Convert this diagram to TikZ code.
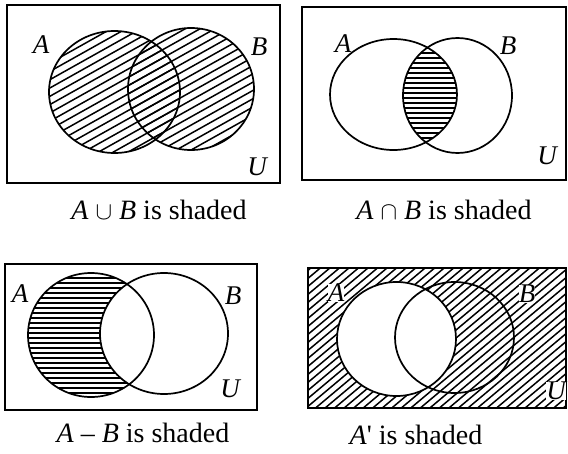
\documentclass[tikz,border=0pt]{standalone}
\usepackage{fontspec}
\setmainfont{Liberation Serif}
\newcommand\diaghatch[4]{% anchor x, anchor y, tan(angle), vertical spacing
  \foreach \k in {-40,...,40}
    \draw[hatchline] (#1-250, #2+\k*#4+250*#3) -- (#1+250, #2+\k*#4-250*#3);}
\newcommand\horhatch[3]{% x-left, y-top, spacing
  \foreach \k in {0,...,40}
    \draw[hatchline] (#1, #2+\k*#3) -- (#1+250, #2+\k*#3);}
\begin{document}
\begin{tikzpicture}[x=1pt,y=-1pt,
  outline/.style={line width=1.7pt},
  hatchline/.style={line width=1.5pt},
  lab/.style={font=\fontsize{27}{29}\selectfont\itshape, inner sep=1pt},
  captext/.style={font=\fontsize{28}{30}\selectfont, inner sep=0pt}]
\useasboundingbox (0,0) rectangle (568,453);

% ---------- Panel 1: A union B ----------
\begin{scope}
  \clip (114.5,92) ellipse [x radius=65.5, y radius=61];
  \diaghatch{150}{90}{0.56}{8.3}
\end{scope}
\begin{scope}
  \clip (191,89) ellipse [x radius=63, y radius=61];
  \diaghatch{150}{90}{0.56}{8.3}
\end{scope}
\draw[outline] (7,5) rectangle (280,183);
\draw[outline] (114.5,92) ellipse [x radius=65.5, y radius=61];
\draw[outline] (191,89) ellipse [x radius=63, y radius=61];
\node[lab] (a1) at (41,45) {A};
\node[lab] (b1) at (259,47) {B};
\node[lab] (u1) at (257,167) {U};
\node[captext] (c1) at (159,210) {\textit{A} $\cup$ \textit{B} is shaded};

% ---------- Panel 2: A intersect B ----------
\begin{scope}
  \clip (393.5,94.5) ellipse [x radius=63.5, y radius=55.5];
  \clip (457.5,95.5) ellipse [x radius=54.5, y radius=57.5];
  \horhatch{380}{38}{5}
\end{scope}
\draw[outline] (302,7) rectangle (566,180);
\draw[outline] (393.5,94.5) ellipse [x radius=63.5, y radius=55.5];
\draw[outline] (457.5,95.5) ellipse [x radius=54.5, y radius=57.5];
\node[lab] (a2) at (343,44) {A};
\node[lab] (b2) at (508,46) {B};
\node[lab] (u2) at (547,156) {U};
\node[captext] (c2) at (444,210) {\textit{A} $\cap$ \textit{B} is shaded};

% ---------- Panel 3: A - B ----------
\begin{scope}
  \clip (91,335) ellipse [x radius=63, y radius=62];
  \horhatch{20}{273}{5}
\end{scope}
\fill[white] (164,333.5) ellipse [x radius=64, y radius=60.5];
\draw[outline] (5,264) rectangle (257,410);
\draw[outline] (91,335) ellipse [x radius=63, y radius=62];
\draw[outline] (164,333.5) ellipse [x radius=64, y radius=60.5];
\node[lab] (a3) at (20,294) {A};
\node[lab] (b3) at (233,296) {B};
\node[lab] (u3) at (230,389) {U};
\node[captext] (c3) at (143,433) {\textit{A} – \textit{B} is shaded};

% ---------- Panel 4: A' ----------
\begin{scope}
  \clip (308,268) rectangle (566,408);
  \diaghatch{437}{338}{0.84}{8}
\end{scope}
\fill[white] (396.5,339) ellipse [x radius=59.5, y radius=57];
\draw[outline] (308,268) rectangle (566,408);
\draw[outline] (396.5,339) ellipse [x radius=59.5, y radius=57];
\draw[outline] (454.5,337.5) ellipse [x radius=59.5, y radius=55.5];
\node[lab, fill=white, inner sep=0pt] (a4) at (336,293) {A};
\node[lab, fill=white, inner sep=0pt] (b4) at (527,294) {B};
\node[lab, fill=white, inner sep=0pt] (u4) at (556,391) {U};
\node[captext] (c4) at (416,435) {\textit{A}\textquotesingle{} is shaded};
\end{tikzpicture}
\end{document}
